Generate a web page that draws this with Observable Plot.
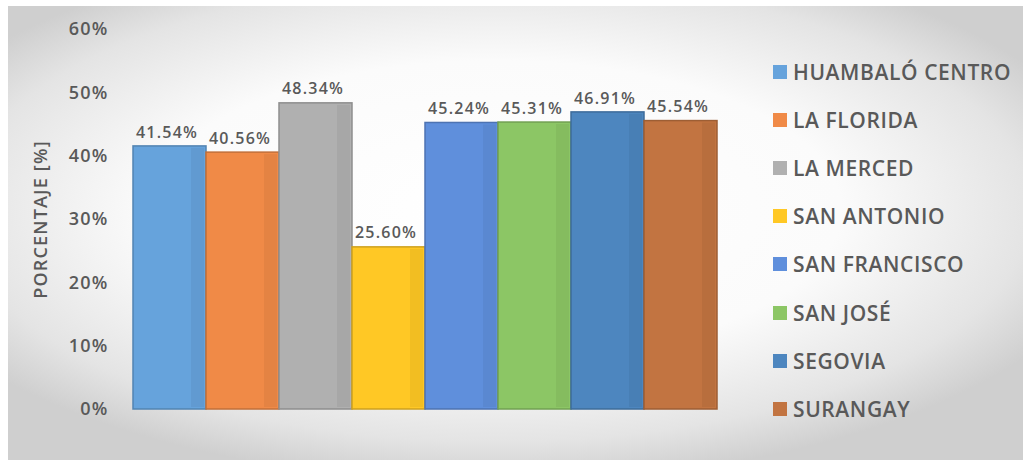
<!DOCTYPE html>
<html>
<head>
<meta charset="utf-8">
<script src="https://cdn.jsdelivr.net/npm/d3@7"></script>
<script src="https://cdn.jsdelivr.net/npm/@observablehq/plot@0.6"></script>
<style>
  html, body { margin: 0; padding: 0; background: #ffffff; }
  body { width: 1030px; height: 470px; position: relative; overflow: hidden; font-family: "Open Sans", sans-serif; }
  #frame { position: absolute; left: 8px; top: 6px; width: 1015px; height: 454px;
    background: radial-gradient(ellipse 62% 60% at 48% 45%, #ffffff 0%, #fbfbfb 55%, #e4e4e4 85%, #cfcfcf 100%); }
  #chart { position: absolute; left: 0; top: 0; }
  #chart svg text { letter-spacing: 1.2px; }
  #legend { position: absolute; left: 0; top: 0; }
  .item { position: absolute; left: 773px; height: 20px; display: flex; align-items: center; color: #595959; font-size: 21px; font-weight: 600; letter-spacing: 0.6px; white-space: nowrap; }
  .sw { width: 14px; height: 14px; margin-right: 6px; }
</style>
</head>
<body>
<div id="frame"></div>
<div id="chart"></div>
<div id="legend"></div>
<script>
const categories = ["HUAMBALÓ CENTRO", "LA FLORIDA", "LA MERCED", "SAN ANTONIO", "SAN FRANCISCO", "SAN JOSÉ", "SEGOVIA", "SURANGAY"];
const values = [41.54, 40.56, 48.34, 25.60, 45.24, 45.31, 46.91, 45.54];
const colors = ["#66a3dc", "#f08a47", "#b0b0b0", "#ffc825", "#5f8fdc", "#8cc665", "#4d86bf", "#c27441"];
const yTicks = [0, 10, 20, 30, 40, 50, 60];
const xTitle = "CASERÍO";
const yTitle = "PORCENTAJE [%]";

const data = categories.map((c, i) => ({ caserio: c, valor: values[i], color: colors[i] }));

const chart = Plot.plot({
  width: 760,
  height: 470,
  marginLeft: 130,
  marginRight: 40,
  marginTop: 29,
  marginBottom: 61,
  style: { background: "transparent", fontFamily: "Open Sans, sans-serif", color: "#595959" },
  x: { domain: categories, padding: 0, axis: null },
  y: { domain: [0, 60], ticks: yTicks, tickFormat: d => d + "%", label: null },
  marks: [
    Plot.gridY(yTicks.filter(d => d > 0), { stroke: "#d4d4d4", strokeOpacity: 1, strokeWidth: 1.5, x1: categories[0], x2: categories[7] }),
    Plot.axisY({ ticks: yTicks, tickFormat: d => d + "%", tickSize: 0, tickPadding: 22, fontSize: 18, fontWeight: 600, fill: "#595959",
                 label: yTitle, labelAnchor: "center", labelArrow: "none", labelOffset: 96 }),
    Plot.barY(data, { x: "caserio", y: "valor", fill: "color", stroke: d => d3.color(d.color).darker(0.6).formatHex(), strokeWidth: 1.5 }),
    Plot.barY(data, { x: "caserio", y: "valor", fill: d => d3.color(d.color).darker(0.25).formatHex(), insetLeft: 58, insetRight: 2, insetTop: 2, insetBottom: 2, fillOpacity: 0.6 }),
    Plot.text(data, { x: "caserio", y: "valor", text: d => d.valor.toFixed(2) + "%", dy: -14, dx: -3, fontSize: 16, fontWeight: 600, fill: "#595959" }),
    Plot.text([xTitle], { frameAnchor: "bottom", dy: 30, x: categories[3], dx: 26, fontSize: 21, fontWeight: 600, fill: "#595959" })
  ]
});
// style the y-axis title to match
chart.querySelectorAll("[aria-label='y-axis label'] text").forEach(t => { t.setAttribute("font-size", "18"); t.setAttribute("font-weight", "600"); });
document.getElementById("chart").append(chart);

const legend = document.getElementById("legend");
categories.forEach((c, i) => {
  const item = document.createElement("div");
  item.className = "item";
  item.style.top = (62 + i * 48.1) + "px";
  const sw = document.createElement("span");
  sw.className = "sw";
  sw.style.background = colors[i];
  const tx = document.createElement("span");
  tx.textContent = c;
  item.append(sw, tx);
  legend.append(item);
});
</script>
</body>
</html>
